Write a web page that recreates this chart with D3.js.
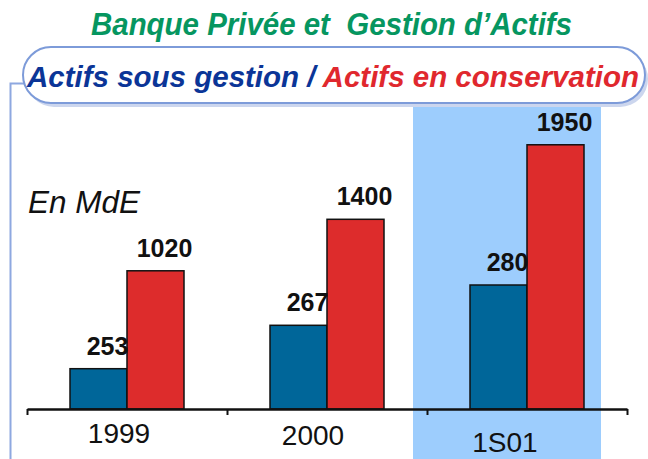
<!DOCTYPE html>
<meta charset="utf-8">
<style>
  body { margin: 0; background: #fff; }
  svg text { font-family: "Liberation Sans", Arial, sans-serif; white-space: pre; }
</style>
<svg width="648" height="459"></svg>
<script src="https://d3js.org/d3.v7.min.js"></script>
<script>

var categories = ["1999", "2000", "1S01"];
var sousGestion = [253, 267, 280];       // blue, drawn on its own (cut) scale
var enConservation = [1020, 1400, 1950]; // red
var tickLabels = ["1999", "2000", "1S01"];

var svg = d3.select("svg"),
    width = +svg.attr("width"),
    height = +svg.attr("height");

var base = 409;

var x = d3.scaleLinear().domain([0, 3]).range([27, 627]);
var xBand = d3.scaleBand().domain(categories).range([27, 627])
    .paddingInner(0.43).paddingOuter(0.215);
var xSeries = d3.scaleBand().domain(["g", "c"]).range([0, xBand.bandwidth()]);

var yRed = d3.scaleLinear().domain([0, 2000]).range([base, base - 271]);
var yBlue = d3.scaleLinear().domain([240, 280]).range([base, base - 124]);

// highlighted period
svg.append("rect")
    .attr("x", 413).attr("y", 95)
    .attr("width", 188).attr("height", height - 95)
    .attr("fill", "#9dcdfd");

// left frame line
svg.append("path")
    .attr("d", "M10.5,459 V83.5 H26")
    .attr("fill", "none")
    .attr("stroke", "#8ea8e0")
    .attr("stroke-width", 2);

// title
svg.append("text")
    .attr("x", 91).attr("y", 35)
    .attr("font-size", 31).attr("font-weight", "bold").attr("font-style", "italic")
    .attr("fill", "#069660")
    .attr("textLength", 481).attr("lengthAdjust", "spacingAndGlyphs")
    .text("Banque Privée et  Gestion d’Actifs");

// pill with shadow
svg.append("rect")
    .attr("x", 26).attr("y", 51).attr("width", 622).attr("height", 56)
    .attr("rx", 28).attr("fill", "#ccd6ee");
svg.append("rect")
    .attr("x", 23).attr("y", 47).attr("width", 622).attr("height", 56)
    .attr("rx", 28).attr("fill", "#fff")
    .attr("stroke", "#7d9bd9").attr("stroke-width", 2);

var sub = svg.append("text")
    .attr("x", 27).attr("y", 87)
    .attr("font-size", 30).attr("font-weight", "bold").attr("font-style", "italic")
    .attr("textLength", 612).attr("lengthAdjust", "spacingAndGlyphs");
sub.append("tspan").attr("fill", "#0b3597").text("Actifs sous gestion / ");
sub.append("tspan").attr("fill", "#e0282e").text("Actifs en conservation");

svg.append("text")
    .attr("x", 28).attr("y", 213)
    .attr("font-size", 31).attr("font-style", "italic")
    .attr("fill", "#111")
    .attr("textLength", 112).attr("lengthAdjust", "spacingAndGlyphs")
    .text("En MdE");

// bars
var groups = svg.append("g").selectAll("g")
    .data(categories)
    .enter().append("g")
      .attr("transform", function(d) { return "translate(" + xBand(d) + ",0)"; });

groups.append("rect")
    .attr("x", xSeries("g"))
    .attr("y", function(d, i) { return yBlue(sousGestion[i]); })
    .attr("width", xSeries.bandwidth())
    .attr("height", function(d, i) { return base - yBlue(sousGestion[i]); })
    .attr("fill", "#006699").attr("stroke", "#111").attr("stroke-width", 1.5);

groups.append("rect")
    .attr("x", xSeries("c"))
    .attr("y", function(d, i) { return yRed(enConservation[i]); })
    .attr("width", xSeries.bandwidth())
    .attr("height", function(d, i) { return base - yRed(enConservation[i]); })
    .attr("fill", "#dd2c2c").attr("stroke", "#111").attr("stroke-width", 1.5);

groups.append("text")
    .attr("x", xSeries("g") + xSeries.bandwidth() / 2 + 9)
    .attr("y", function(d, i) { return yBlue(sousGestion[i]) - 14; })
    .attr("text-anchor", "middle")
    .attr("font-size", 25).attr("font-weight", "bold").attr("fill", "#111")
    .text(function(d, i) { return sousGestion[i]; });

groups.append("text")
    .attr("x", xSeries("c") + xSeries.bandwidth() / 2 + 9)
    .attr("y", function(d, i) { return yRed(enConservation[i]) - 14; })
    .attr("text-anchor", "middle")
    .attr("font-size", 25).attr("font-weight", "bold").attr("fill", "#111")
    .text(function(d, i) { return enConservation[i]; });

// axis
var axis = svg.append("g")
    .attr("transform", "translate(0," + base + ")")
    .call(d3.axisBottom(x).tickValues([0, 1, 2, 3]).tickSize(6).tickSizeOuter(0).tickFormat(""));
axis.select(".domain").attr("stroke", "#111").attr("stroke-width", 2.5);
axis.selectAll(".tick line").attr("stroke", "#111").attr("stroke-width", 2);

var labelDx = [-8, -14, -22];
var labelY = [443, 445, 452];
svg.append("g").selectAll("text")
    .data(tickLabels)
    .enter().append("text")
      .attr("x", function(d, i) { return xBand(categories[i]) + xBand.bandwidth() / 2 + labelDx[i]; })
      .attr("y", function(d, i) { return labelY[i]; })
      .attr("text-anchor", "middle")
      .attr("font-size", 28).attr("fill", "#111")
      .text(function(d) { return d; });

</script>
